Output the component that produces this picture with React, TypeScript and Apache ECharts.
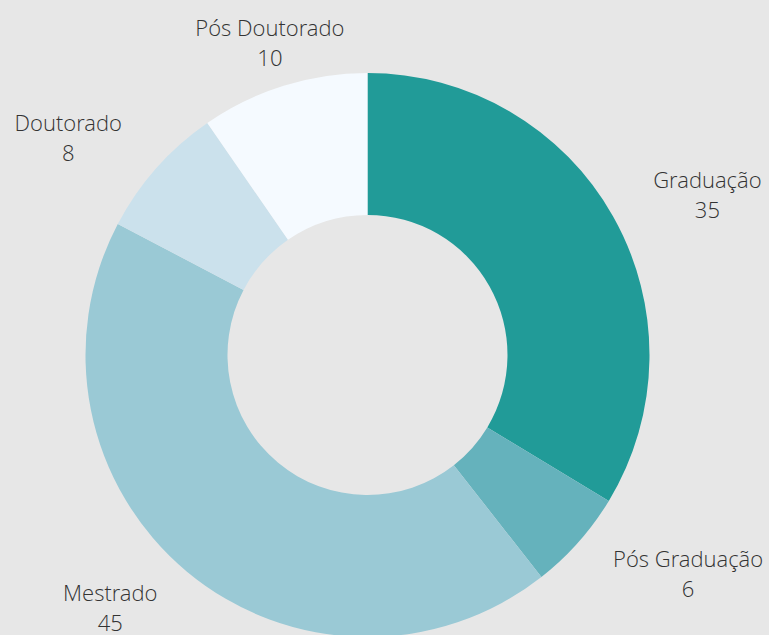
import React, { useEffect, useRef } from "react";
import * as echarts from "echarts";

const categories = ["Graduação", "Pós Graduação", "Mestrado", "Doutorado", "Pós Doutorado"];
const values = [35, 6, 45, 8, 10];
const colors = ["#219b98", "#65b2bc", "#9ac9d5", "#cbe1ec", "#f5faff"];

export default function App() {
  const ref = useRef<HTMLDivElement>(null);
  useEffect(() => {
    document.body.style.margin = "0";
    document.body.style.background = "#e7e7e7";
    const chart = echarts.init(ref.current!, null, { renderer: "svg" });
    const total = values.reduce((a, b) => a + b, 0);
    const mids: number[] = [];
    let acc = 0;
    values.forEach((v) => {
      mids.push(((acc + v / 2) / total) * Math.PI * 2);
      acc += v;
    });
    chart.setOption({
      animation: false,
      backgroundColor: "#e7e7e7",
      series: [
        {
          type: "pie",
          center: [367.5, 355],
          radius: [140, 282],
          startAngle: 90,
          clockwise: true,
          avoidLabelOverlap: false,
          label: {
            show: true,
            position: "outside",
            formatter: "{b}\n{c}",
            fontFamily: "'Open Sans Light', 'Open Sans'",
            fontWeight: 300,
            fontSize: 22,
            lineHeight: 30,
            color: "#333333",
            distanceToLabelLine: 0,
          },
          labelLine: { show: false, length: 46, length2: 0 },
          labelLayout: (params: any) => {
            const s = Math.sin(mids[params.dataIndex]);
            const w = params.labelRect.width;
            if (Math.abs(s) < 0.4) return { align: "center" };
            return { align: "center", dx: s > 0 ? w / 2 : -w / 2 };
          },
          emphasis: { disabled: true },
          data: categories.map((name, i) => ({
            name,
            value: values[i],
            itemStyle: { color: colors[i] },
          })),
        },
      ],
    });
    return () => chart.dispose();
  }, []);
  return <div ref={ref} style={{ width: 769, height: 635 }} />;
}
